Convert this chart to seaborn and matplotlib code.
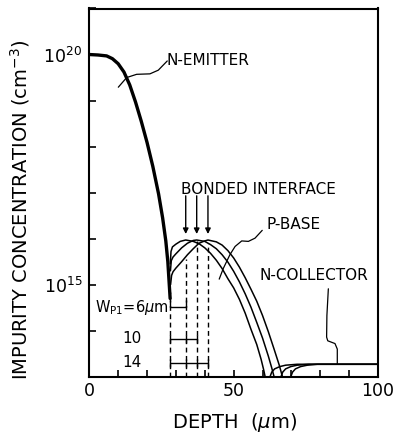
import numpy as np
import pandas as pd
import matplotlib
matplotlib.use("Agg")
import matplotlib.pyplot as plt
from matplotlib.ticker import FixedLocator, NullLocator
import seaborn as sns

# ---------------- data (depth in um, log10 of concentration in cm^-3) ----------------
emitter_depth = [0, 3, 6, 8, 10, 12, 14, 16, 18, 20, 22, 24, 25.4, 26.5, 27.2, 27.7, 28.0]
emitter_log = [20.0, 19.99, 19.97, 19.91, 19.80, 19.62, 19.34, 18.97, 18.55, 18.09, 17.57, 16.97, 16.45, 15.95, 15.5, 15.0, 14.7]

base_w6_depth = [28.05, 28.3, 28.8, 30, 31.5, 33.4, 36, 38, 40, 42, 44, 46, 48, 50, 52, 54, 56, 58, 59.5, 60.4, 60.9]
base_w6_log = [15.45, 15.72, 15.82, 15.88, 15.94, 15.97, 15.94, 15.89, 15.80, 15.68, 15.53, 15.35, 15.13, 14.93, 14.68, 14.38, 14.03, 13.70, 13.38, 13.15, 13.0]

base_w10_depth = [28.1, 28.4, 29, 30, 32, 34, 36, 37.2, 40, 42, 44, 46, 48, 50, 52, 54, 56, 58, 60, 62, 63.2, 64.0]
base_w10_log = [15.3, 15.52, 15.6, 15.67, 15.8, 15.9, 15.96, 15.97, 15.94, 15.87, 15.78, 15.65, 15.49, 15.29, 15.06, 14.80, 14.51, 14.18, 13.84, 13.45, 13.19, 13.0]

base_w14_depth = [28.15, 28.5, 29, 30, 32, 34, 36, 38, 40, 41.1, 44, 46, 48, 50, 52, 54, 56, 58, 60, 62, 64, 65.8, 66.9]
base_w14_log = [15.0, 15.2, 15.28, 15.36, 15.5, 15.65, 15.78, 15.9, 15.95, 15.97, 15.93, 15.86, 15.74, 15.58, 15.38, 15.15, 14.90, 14.64, 14.33, 13.98, 13.60, 13.25, 13.0]

coll_log = [13.0, 13.1, 13.17, 13.22, 13.25, 13.27, 13.27]
coll1_depth = [62.6, 63.2, 64.2, 66.0, 68.0, 72.0, 100]
coll2_depth = [66.4, 67.0, 68.0, 69.8, 72.0, 76.0, 100]
coll3_depth = [69.8, 70.4, 71.4, 73.2, 75.5, 79.0, 100]

interface_depth = [28.0, 33.4, 37.2, 41.1]      # emitter junction + bonded interfaces
interface_top_log = [14.85, 15.55, 15.95, 15.9]
wp_values = ["6", "10", "14"]
bracket_log = [14.51, 13.82, 13.3]

x_ticks = list(range(0, 101, 10))
x_labels = ["0", "", "", "", "", "50", "", "", "", "", "100"]
y_exps = list(range(13, 22))
y_labels = {20: r"$10^{20}$", 15: r"$10^{15}$"}

# ---------------- style ----------------
sns.set_style("white")
plt.rcParams["font.family"] = ["DejaVu Sans"]
plt.rcParams["mathtext.fontset"] = "dejavusans"
plt.rcParams["text.color"] = "black"
plt.rcParams["axes.labelcolor"] = "black"
plt.rcParams["xtick.color"] = "black"
plt.rcParams["ytick.color"] = "black"
plt.rcParams["xtick.bottom"] = True
plt.rcParams["ytick.left"] = True
plt.rcParams["xtick.direction"] = "in"
plt.rcParams["ytick.direction"] = "in"

fig = plt.figure(figsize=(3.96, 4.37), dpi=100)
ax = fig.add_axes([89.3 / 396, 1 - 376.7 / 437, (378 - 89.3) / 396, (376.7 - 8.5) / 437])
ax.set_yscale("log")

def curve(depth, logs, lw):
    df = pd.DataFrame({"depth": depth, "conc": 10.0 ** np.asarray(logs)})
    sns.lineplot(data=df, x="depth", y="conc", ax=ax, color="black", lw=lw,
                 estimator=None, sort=False)

curve(emitter_depth, emitter_log, 2.4)
for d, l in [(base_w6_depth, base_w6_log), (base_w10_depth, base_w10_log),
             (base_w14_depth, base_w14_log)]:
    curve(d, l, 1.1)
for d in [coll1_depth, coll2_depth, coll3_depth]:
    curve(d, coll_log, 1.1)

# dashed interface lines
ax.vlines(interface_depth, 1e13, 10.0 ** np.asarray(interface_top_log),
          colors="black", linestyles=(0, (3.5, 2.5)), lw=1.0)

# width brackets
for i, (w, yl) in enumerate(zip(wp_values, bracket_log)):
    xs = interface_depth[: i + 2]
    if i == 0:
        ax.plot(xs, [10 ** yl] * len(xs), color="black", lw=1.0, marker=2, ms=5, mew=1.0)
    else:
        ax.plot(xs, [10 ** yl] * len(xs), color="black", lw=1.0, marker="|", ms=6, mew=1.0)

ax.text(27.6, 10 ** bracket_log[0], r"W$_{\rm P1}$=" + wp_values[0] + r"$\mu$m",
        ha="right", va="center", fontsize=10.5)
ax.text(14.7, 10 ** bracket_log[1], wp_values[1], ha="center", va="center", fontsize=11)
ax.text(14.7, 10 ** bracket_log[2], wp_values[2], ha="center", va="center", fontsize=11)

# bonded interface arrows
for d in interface_depth[1:]:
    ax.annotate("", xy=(d, 10 ** 16.1), xytext=(d, 10 ** 16.93),
                arrowprops=dict(arrowstyle="-|>", color="black", lw=1.0,
                                mutation_scale=8, shrinkA=0, shrinkB=0))

# labels
ax.text(26.9, 10 ** 19.88, "N-EMITTER", ha="left", va="center", fontsize=11)
ax.text(58.6, 10 ** 17.07, "BONDED INTERFACE", ha="center", va="center", fontsize=11)
ax.text(61.4, 10 ** 16.3, "P-BASE", ha="left", va="center", fontsize=11)
ax.text(59.1, 10 ** 15.2, "N-COLLECTOR", ha="left", va="center", fontsize=11)

# leader lines
lead_em = ([10.05, 12.95, 16.4, 21.0, 23.9, 25.6, 27.0],
           [19.29, 19.50, 19.57, 19.58, 19.66, 19.77, 19.86])
lead_pb = ([59.9, 57.4, 55.1, 52.8, 50.5, 48.7, 46.4, 45.0],
           [16.18, 16.01, 15.94, 15.95, 15.83, 15.65, 15.35, 15.12])
lead_nc = ([82.8, 82.3, 82.2, 82.6, 85.1, 85.9, 85.9],
           [14.91, 14.33, 13.86, 13.78, 13.72, 13.6, 13.27])
for xs, ys in [lead_em, lead_pb, lead_nc]:
    ax.plot(xs, 10.0 ** np.asarray(ys), color="black", lw=0.9)

# axes
ax.set_xlim(0, 100)
ax.set_ylim(1e13, 1e21)
ax.xaxis.set_major_locator(FixedLocator(x_ticks))
ax.xaxis.set_minor_locator(NullLocator())
ax.set_xticklabels(x_labels)
ax.yaxis.set_major_locator(FixedLocator([10.0 ** e for e in y_exps]))
ax.yaxis.set_minor_locator(NullLocator())
ax.set_yticklabels([y_labels.get(e, "") for e in y_exps])
ax.tick_params(axis="both", which="major", direction="in", length=5, width=1.2,
               labelsize=12.5, colors="black", top=False, right=False)
ax.tick_params(axis="x", which="major", bottom=True, pad=4)
ax.tick_params(axis="y", which="major", left=True, pad=5)
for s in ax.spines.values():
    s.set_linewidth(1.5)
    s.set_color("black")
    s.set_visible(True)
ax.set_xlabel("")
ax.set_ylabel("")

fig.text(234.5 / 396, 1 - 422 / 437, r"DEPTH  ($\mu$m)", ha="center", va="center", fontsize=14)
fig.text(20 / 396, 1 - 209.5 / 437, r"IMPURITY CONCENTRATION (cm$^{-3}$)",
         rotation=90, ha="center", va="center", fontsize=14)

fig.savefig("out.png", dpi=100)
